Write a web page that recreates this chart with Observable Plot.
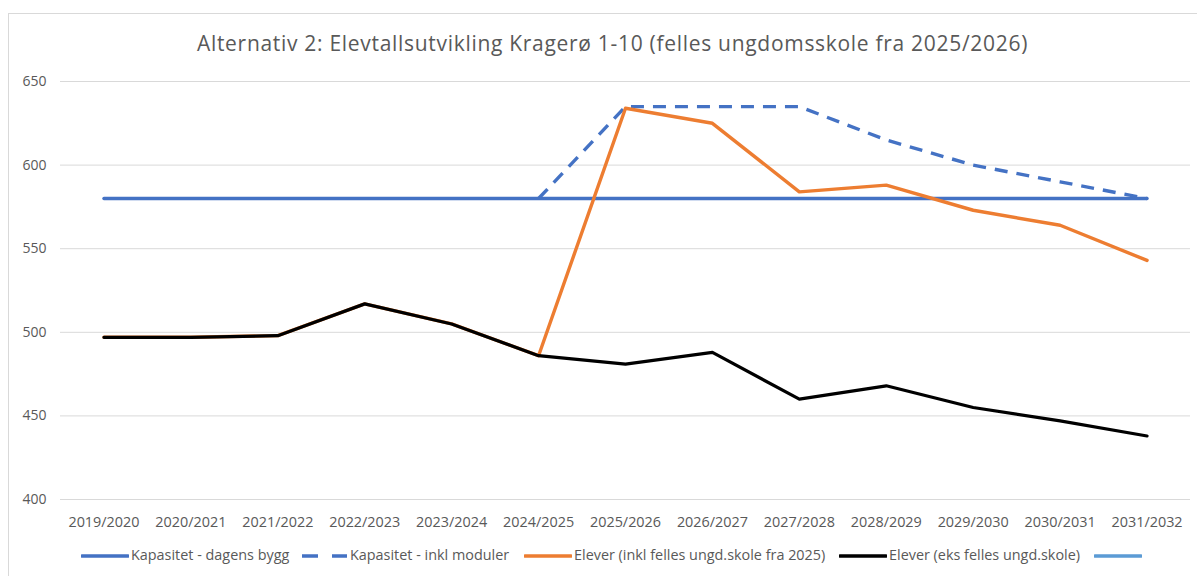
<!DOCTYPE html>
<html>
<head>
<meta charset="utf-8">
<script src="https://cdn.jsdelivr.net/npm/d3@7"></script>
<script src="https://cdn.jsdelivr.net/npm/@observablehq/plot@0.6"></script>
<style>
  html, body { margin: 0; padding: 0; background: #fff; }
  body { width: 1197px; height: 576px; position: relative; overflow: hidden; font-family: "Open Sans", sans-serif; color: #595959; }
  #frame { position: absolute; left: 8px; top: 13px; width: 1300px; height: 700px; border-left: 1px solid #d9d9d9; border-top: 1px solid #d9d9d9; }
  #title { position: absolute; left: 0; width: 1225px; top: 29px; text-align: center; font-size: 21px; letter-spacing: 0.7px; color: #595959; white-space: nowrap; }
  #chart { position: absolute; left: 0; top: 60px; }
  .leg { position: absolute; top: 544px; display: flex; align-items: center; font-size: 14.4px; color: #595959; white-space: nowrap; }
  .leg svg { margin-right: 2px; }
</style>
</head>
<body>
<div id="frame"></div>
<div id="title">Alternativ 2: Elevtallsutvikling Kragerø 1-10 (felles ungdomsskole fra 2025/2026)</div>
<div id="chart"></div>
<div id="legend"></div>
<script>
const years = ["2019/2020","2020/2021","2021/2022","2022/2023","2023/2024","2024/2025","2025/2026","2026/2027","2027/2028","2028/2029","2029/2030","2030/2031","2031/2032"];
const kapasitetDagens = [580,580,580,580,580,580,580,580,580,580,580,580,580];
const kapasitetModuler = [null,null,null,null,null,580,635,635,635,615,600,590,580];
const eleverInkl = [497,497,498,517,505,486,634,625,584,588,573,564,543];
const eleverEks = [497,497,498,517,505,486,481,488,460,468,455,447,438];
const yTicks = [400,450,500,550,600,650];

const seriesNames = ["Kapasitet - dagens bygg","Kapasitet - inkl moduler","Elever (inkl felles ungd.skole fra 2025)","Elever (eks felles ungd.skole)",""];
const seriesValues = [kapasitetDagens, kapasitetModuler, eleverInkl, eleverEks];
const seriesColors = ["#4472C4","#4472C4","#ED7D31","#000000","#5B9BD5"];
const seriesDash = [null,"13,9",null,null,null];

const toRows = vals => years.map((y,i) => ({year: y, value: vals[i]})).filter(d => d.value != null);

const lineMarks = seriesValues.map((vals, k) => Plot.line(toRows(vals), {
  x: "year", y: "value",
  stroke: seriesColors[k],
  strokeWidth: k === 3 ? 3.2 : 3.4,
  strokeDasharray: seriesDash[k],
  strokeLinejoin: "round",
  strokeLinecap: k === 1 ? "butt" : "round"
}));

const chart = Plot.plot({
  width: 1197,
  height: 480,
  marginLeft: 60,
  marginRight: 7,
  marginTop: 21,
  marginBottom: 41,
  style: {fontFamily: "Open Sans, sans-serif", color: "#595959", background: "transparent"},
  x: {type: "point", domain: years, padding: 0.5, round: false},
  y: {domain: [400, 650]},
  marks: [
    Plot.ruleY(yTicks, {stroke: "#d9d9d9", strokeWidth: 1}),
    Plot.axisY({ticks: yTicks, tickSize: 0, tickPadding: 14, fontSize: 14, fill: "#595959", label: null}),
    Plot.axisX({tickSize: 0, tickPadding: 17, fontSize: 14.4, fill: "#595959", label: null}),
    ...lineMarks
  ]
});
document.getElementById("chart").appendChild(chart);

const legendLeft = [81, 300, 524, 839, 1094];
const legend = document.getElementById("legend");
seriesNames.forEach((name, k) => {
  const div = document.createElement("div");
  div.className = "leg";
  div.style.left = legendLeft[k] + "px";
  const dash = seriesDash[k] ? `stroke-dasharray="${k===1 ? '16,14' : seriesDash[k]}"` : "";
  div.innerHTML = `<svg width="48" height="20"><line x1="${k===1?2:1}" x2="47" y1="12" y2="12" stroke="${seriesColors[k]}" stroke-width="3.4" stroke-linecap="${k===1?'butt':'round'}" ${dash}/></svg><span>${name}</span>`;
  legend.appendChild(div);
});
</script>
</body>
</html>
